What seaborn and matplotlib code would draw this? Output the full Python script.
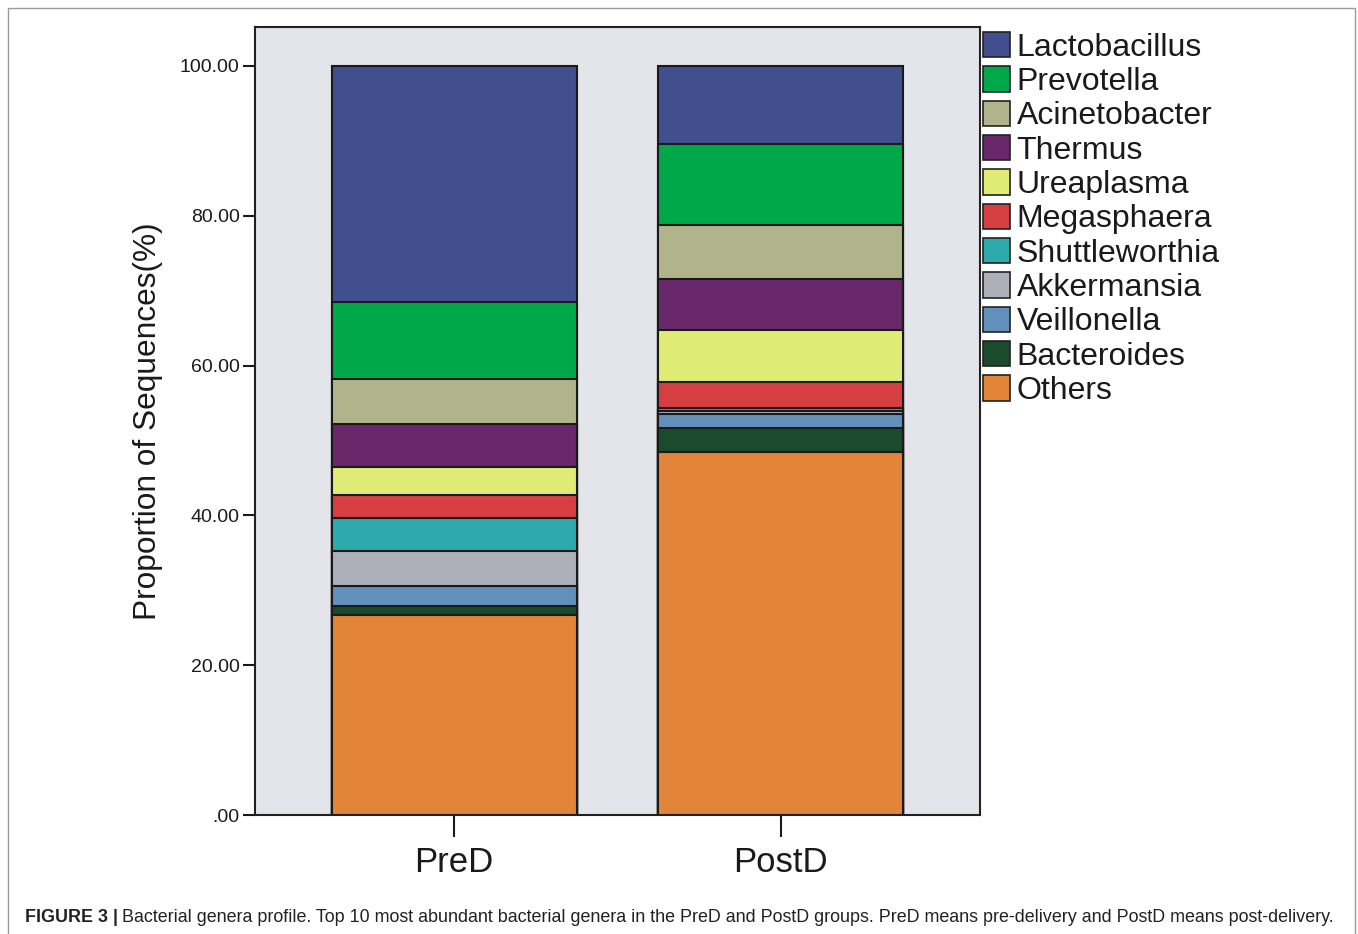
import seaborn as sns
import matplotlib.pyplot as plt
import pandas as pd
from matplotlib.patches import Patch, Rectangle

groups = ["PreD", "PostD"]
genera = ["Lactobacillus", "Prevotella", "Acinetobacter", "Thermus", "Ureaplasma",
          "Megasphaera", "Shuttleworthia", "Akkermansia", "Veillonella", "Bacteroides", "Others"]
pred = [31.5, 10.3, 6.0, 5.7, 3.8, 3.0, 4.5, 4.6, 2.7, 1.2, 26.7]
postd = [10.4, 10.8, 7.2, 6.8, 7.0, 3.5, 0.4, 0.3, 1.9, 3.2, 48.5]
colors = ["#424f8f", "#00a84a", "#b1b48a", "#68286a", "#dfeb74",
          "#d63e42", "#2eaaad", "#adb0b8", "#6390bb", "#1c4a2c", "#e28538"]

sns.set_style("white")
plt.rcParams['font.family'] = ['Liberation Sans', 'DejaVu Sans']

rows = []
for g, vals in zip(groups, [pred, postd]):
    # cumulative top of each genus, stacked from the bottom (Others) upwards
    top = 0
    tops = {}
    for name, v in zip(reversed(genera), reversed(vals)):
        top += v
        tops[name] = top
    for name in genera:
        rows.append({"group": g, "genus": name, "top": tops[name]})
data = pd.DataFrame(rows)

fig = plt.figure(figsize=(13.58, 9.34), dpi=100)
ax = fig.add_axes([255 / 1358, 1 - 815 / 934, 725 / 1358, 788 / 934])
ax.set_facecolor("#e4e5ea")

for name, col in zip(genera, colors):
    sub = data[data["genus"] == name]
    sns.barplot(data=sub, x="group", y="top", order=groups, color=col, width=0.75,
                edgecolor="#1a1a1a", linewidth=1.5, ax=ax, saturation=1)

ax.set_xlim(-0.61, 1.61)
ax.set_ylim(0, 105.2)
ax.set_yticks([0, 20, 40, 60, 80, 100])
ax.set_yticklabels([".00", "20.00", "40.00", "60.00", "80.00", "100.00"], fontsize=14)
ax.set_xticks([0, 1])
ax.set_xticklabels(groups, fontsize=25)
ax.tick_params(axis="y", direction="out", length=9, width=1.5, pad=2, left=True, colors="#1a1a1a")
ax.tick_params(axis="x", direction="out", length=16, width=1.5, pad=6, bottom=True, colors="#1a1a1a")
ax.set_xlabel("")
ax.set_ylabel("Proportion of Sequences(%)", fontsize=22.8, labelpad=12, color="#1a1a1a")
for s in ax.spines.values():
    s.set_color("#222222")
    s.set_linewidth(1.5)

handles = [Patch(facecolor=c, edgecolor="#222222", linewidth=1.2) for c in colors]
leg = fig.legend(handles, genera, loc="upper left", bbox_to_anchor=(983 / 1358, 1 - 32 / 934),
                 frameon=False, fontsize=23, handlelength=0.85, handleheight=0.85,
                 handletextpad=0.2, labelspacing=0.11, borderaxespad=0, borderpad=0)
for t in leg.get_texts():
    t.set_color("#1a1a1a")

fig.patches.append(Rectangle((8 / 1358, -0.1), 1347 / 1358, 1.1 - 8 / 934,
                             transform=fig.transFigure, fill=False,
                             edgecolor="#9a9a9a", linewidth=1))

t1 = fig.text(25 / 1358, 1 - 918 / 934, "FIGURE 3 |", fontsize=12.9, fontweight="bold",
              va="center", ha="left", color="#222222")
fig.canvas.draw()
bb = t1.get_window_extent()
fig.text((bb.x1 + 4) / 1358, 1 - 918 / 934,
         "Bacterial genera profile. Top 10 most abundant bacterial genera in the PreD and PostD groups. "
         "PreD means pre-delivery and PostD means post-delivery.",
         fontsize=12.9, va="center", ha="left", color="#222222")

fig.savefig("out.png", dpi=100)
